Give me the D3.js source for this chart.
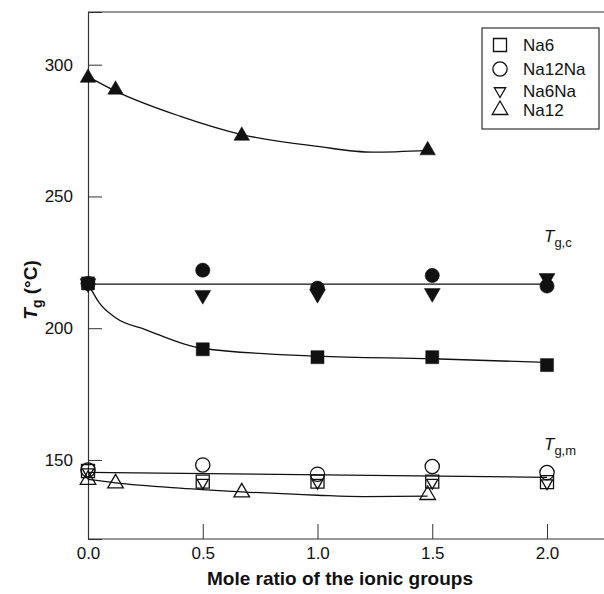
<!DOCTYPE html>
<html>
<head>
<meta charset="utf-8">
<script src="https://cdn.jsdelivr.net/npm/d3@7"></script>
<style>
body { margin: 0; background: #fff; }
text { font-family: Arial, "Liberation Sans", sans-serif; fill: #111; }
</style>
</head>
<body>
<div id="chart"></div>
<script>
//////////////////////////////////////////////////////////////////////////////
// Data

var xTicks = [0, 0.5, 1.0, 1.5, 2.0];
var yTicks = [150, 200, 250, 300];

// T_g,c (filled markers)
var na6C    = [[0, 217], [0.5, 192], [1.0, 189], [1.5, 189], [2.0, 186]];
var na12NaC = [[0, 217], [0.5, 222], [1.0, 215.2], [1.5, 220], [2.0, 216]];
var na6NaC  = [[0, 217], [0.5, 212.6], [1.0, 213], [1.5, 213.3], [2.0, 219]];
var na12C   = [[0, 295], [0.12, 290.5], [0.67, 273], [1.48, 267.5]];

// T_g,m (open markers)
var na6M    = [[0, 145.8], [0.5, 141.8], [1.0, 141.8], [1.5, 141.8], [2.0, 141.6]];
var na12NaM = [[0, 146.2], [0.5, 148.1], [1.0, 144.6], [1.5, 147.5], [2.0, 145.2]];
var na6NaM  = [[0, 145.4], [0.5, 141.4], [1.0, 141.4], [1.5, 141.4], [2.0, 141.2]];
var na12M   = [[0, 142.4], [0.12, 141.1], [0.67, 137.7], [1.48, 136.7]];

// fitted curves as drawn in the figure
var fitNa6C  = [[0, 217], [0.05, 209.5], [0.12, 204], [0.25, 199.5], [0.5, 192.3], [1.0, 189.4], [1.5, 188.4], [2.0, 187]];
var fitNa12C = [[0, 295.5], [0.12, 290], [0.4, 280.5], [0.67, 273.5], [1.0, 269], [1.24, 266.8], [1.48, 267.5]];
var fitNa12M = [[0, 142.6], [0.12, 141.3], [0.4, 139.3], [0.67, 137.9], [1.0, 136.6], [1.2, 136.1], [1.48, 136.3]];
var lineTgc  = [[0, 216.7], [2.0, 216.7]];
var lineTgm  = [[0, 145.3], [2.0, 143.4]];

var legendNames = ["Na6", "Na12Na", "Na6Na", "Na12"];

//////////////////////////////////////////////////////////////////////////////

var width = 604, height = 594;

var xScale = d3.scaleLinear().domain([0, 2]).range([88, 547]);
var yScale = d3.scaleLinear().domain([120, 320]).range([539, 12]);

var svg = d3.select("#chart")
    .append("svg")
    .attr("width", width)
    .attr("height", height);

var shapes = {
    square: d3.symbol().type(d3.symbolSquare).size(170)(),
    circle: d3.symbol().type(d3.symbolCircle).size(160)(),
    up: d3.symbol().type(d3.symbolTriangle).size(105)(),
    down: d3.symbol().type(d3.symbolTriangle).size(110)(),
    downSmall: d3.symbol().type(d3.symbolTriangle).size(55)()
};

// frame: top line and bottom extension
svg.append("line")
    .attr("x1", xScale(0)).attr("x2", width)
    .attr("y1", yScale(320)).attr("y2", yScale(320))
    .attr("stroke", "#333").attr("stroke-width", 1.2);

var xAxis = svg.append("g")
    .attr("transform", "translate(0," + yScale(120) + ")")
    .call(d3.axisBottom(xScale)
        .tickValues(xTicks)
        .tickSize(-15)
        .tickPadding(8)
        .tickFormat(d3.format(".1f")));
xAxis.select(".domain").remove();
xAxis.append("line")
    .attr("x1", xScale(0)).attr("x2", width)
    .attr("stroke", "#333").attr("stroke-width", 1.2);
xAxis.selectAll(".tick line").attr("stroke", "#333");
xAxis.selectAll("text").style("font-size", "17px").attr("fill", "#111");

var yAxis = svg.append("g")
    .attr("transform", "translate(" + xScale(0) + ",0)")
    .call(d3.axisLeft(yScale)
        .tickValues(yTicks)
        .tickSize(-14)
        .tickPadding(15));
yAxis.select(".domain").attr("stroke", "#333").attr("stroke-width", 1.2);
yAxis.selectAll(".tick line").attr("stroke", "#333");
yAxis.selectAll("text").style("font-size", "17px").attr("fill", "#111");

// axis titles
svg.append("text")
    .attr("x", 340).attr("y", 585)
    .attr("text-anchor", "middle")
    .style("font-size", "19px").style("font-weight", "bold")
    .text("Mole ratio of the ionic groups");

var yl = svg.append("text")
    .attr("transform", "translate(37,290) rotate(-90)")
    .attr("text-anchor", "middle")
    .style("font-size", "19px").style("font-weight", "bold");
yl.append("tspan").style("font-style", "italic").text("T");
yl.append("tspan").attr("dy", 5).style("font-size", "14px").text("g");
yl.append("tspan").attr("dy", -5).text(" (°C)");

// curves
var line = d3.line()
    .x(function(d) { return xScale(d[0]); })
    .y(function(d) { return yScale(d[1]); });
var smooth = d3.line()
    .x(function(d) { return xScale(d[0]); })
    .y(function(d) { return yScale(d[1]); })
    .curve(d3.curveMonotoneX);

[lineTgc, lineTgm].forEach(function(p) {
    svg.append("path").attr("d", line(p))
        .attr("fill", "none").attr("stroke", "#111").attr("stroke-width", 1.3);
});
[fitNa6C, fitNa12C, fitNa12M].forEach(function(p) {
    svg.append("path").attr("d", smooth(p))
        .attr("fill", "none").attr("stroke", "#111").attr("stroke-width", 1.3);
});

// markers
function flip(shape) { return shape === "down" || shape === "downSmall"; }

function drawMarkers(data, shape, filled) {
    svg.append("g")
        .selectAll("path")
        .data(data)
        .enter()
        .append("path")
        .attr("transform", function(d) {
            var t = "translate(" + xScale(d[0]) + "," + yScale(d[1]) + ")";
            return flip(shape) ? t + " rotate(180)" : t;
        })
        .attr("d", shapes[shape])
        .attr("fill", filled ? "#111" : "none")
        .attr("stroke", "#111")
        .attr("stroke-width", filled ? 0.5 : 1.3);
}

drawMarkers(na6M, "square", false);
drawMarkers(na6NaM, "downSmall", false);
drawMarkers(na12NaM, "circle", false);
drawMarkers(na12M, "up", false);

drawMarkers(na12NaC, "circle", true);
drawMarkers(na6NaC, "down", true);
drawMarkers(na6C, "square", true);
drawMarkers(na12C, "up", true);

// T_g labels
function tgLabel(x, y, sub) {
    var t = svg.append("text").attr("x", x).attr("y", y).style("font-size", "17px");
    t.append("tspan").style("font-style", "italic").text("T");
    t.append("tspan").attr("dy", 5).style("font-size", "13px").text(sub);
}
tgLabel(544, 242, "g,c");
tgLabel(544, 450, "g,m");

// legend
var legend = svg.append("g");
legend.append("rect")
    .attr("x", 482).attr("y", 28)
    .attr("width", 117).attr("height", 101)
    .attr("fill", "#fff").attr("stroke", "#333").attr("stroke-width", 1.2);

var legendY = [45, 69, 91, 110];
var legendShapes = ["square", "circle", "downSmall", "up"];
legendNames.forEach(function(name, i) {
    legend.append("path")
        .attr("transform", "translate(500," + legendY[i] + ")" +
            (flip(legendShapes[i]) ? " rotate(180)" : ""))
        .attr("d", shapes[legendShapes[i]])
        .attr("fill", "none").attr("stroke", "#111").attr("stroke-width", 1.3);
    legend.append("text")
        .attr("x", 523).attr("y", legendY[i] + 6)
        .style("font-size", "17px")
        .text(name);
});
</script>
</body>
</html>
